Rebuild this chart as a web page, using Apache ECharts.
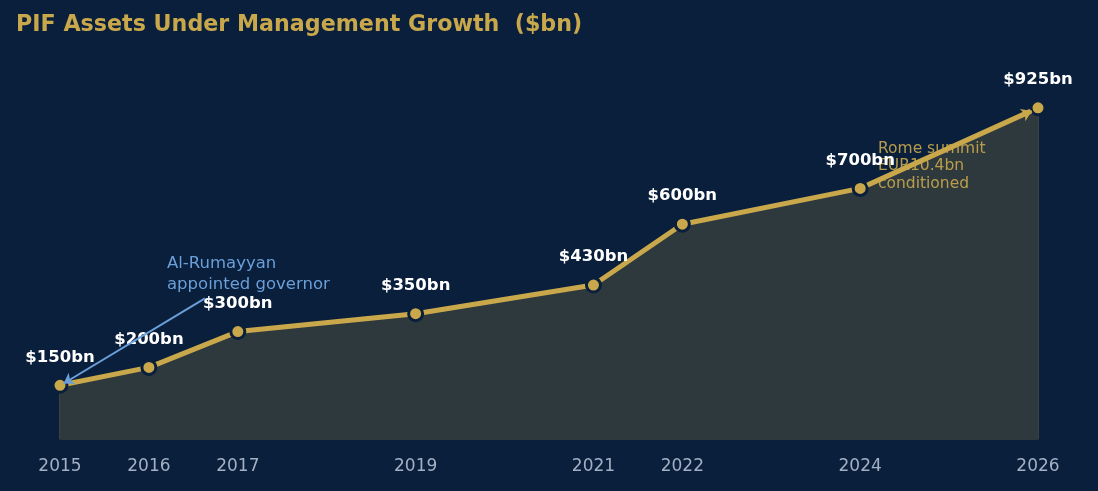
<!DOCTYPE html>
<html>
<head>
<meta charset="utf-8">
<script src="https://cdn.jsdelivr.net/npm/echarts@6/dist/echarts.min.js"></script>
<style>
	html, body { margin: 0; padding: 0; background: #0a1f3c; }
	#chart { width: 1098px; height: 491px; }
</style>
</head>
<body>
<div id="chart"></div>
<script>
// PIF assets under management, $bn
const years = [2015, 2016, 2017, 2019, 2021, 2022, 2024, 2026]
const assets = [150, 200, 300, 350, 430, 600, 700, 925]

const gold = '#c9a84c'
const navy = '#0a1f3c'

$chart = echarts.init(document.getElementById('chart'))

const lineData = years.map((y, i) => [y, assets[i]])

const option = {
	backgroundColor: navy,
	animation: false,
	title: {
		text: 'PIF Assets Under Management Growth  ($bn)',
		left: 11,
		top: 9,
		textStyle: { color: gold, fontSize: 22.2, fontWeight: 'bold', fontFamily: 'DejaVu Sans' },
	},
	grid: { left: 60, right: 60, top: 81, bottom: 52 },
	xAxis: {
		type: 'value',
		min: 2015,
		max: 2026,
		interval: 1,
		axisLine: { show: false },
		axisTick: { show: false },
		splitLine: { show: false },
		axisLabel: {
			color: '#a3b0c4',
			fontSize: 17,
			fontFamily: 'DejaVu Sans',
			margin: 19,
			formatter: (v) => (years.includes(v) ? String(v) : ''),
		},
	},
	yAxis: {
		type: 'value',
		min: 0,
		max: 1000,
		show: false,
	},
	graphic: [
		{
			type: 'text',
			left: 167,
			top: 253,
			z: 3,
			style: {
				text: 'Al-Rumayyan\nappointed governor',
				fill: '#6a9fd8',
				font: '16.5px "DejaVu Sans"',
				lineHeight: 21,
			},
		},
		{
			type: 'text',
			left: 878,
			top: 140,
			z: 3,
			style: {
				text: 'Rome summit\nEUR10.4bn\nconditioned',
				fill: 'rgba(201,168,76,0.9)',
				font: '15.5px "DejaVu Sans"',
				lineHeight: 17.5,
			},
		},
	],
	series: [
		{
			// outline of the filled area
			type: 'line',
			data: [[2015, 150], [2015, 0], [2026, 0], [2026, 925]],
			symbol: 'none',
			lineStyle: { color: '#4a5048', width: 1.5 },
			silent: true,
			z: 1,
		},
		{
			// filled area under the line
			type: 'line',
			data: lineData,
			symbol: 'none',
			lineStyle: { width: 0 },
			areaStyle: { color: '#2e393e', opacity: 1, origin: 'start' },
			silent: true,
			z: 2,
		},
		{
			type: 'line',
			data: lineData,
			z: 4,
			symbol: 'circle',
			symbolSize: 14,
			itemStyle: { color: gold, borderColor: navy, borderWidth: 3 },
			lineStyle: { color: gold, width: 5 },
			label: {
				show: true,
				position: 'top',
				distance: 11,
				color: '#ffffff',
				fontSize: 16.5,
				fontWeight: 'bold',
				fontFamily: 'DejaVu Sans',
				formatter: (p) => '$' + p.value[1] + 'bn',
			},
			markLine: {
				silent: true,
				symbol: ['none', 'arrow'],
				symbolSize: 10,
				label: { show: false },
				data: [
					[
						{ coord: [2016.63, 393], lineStyle: { color: '#6a9fd8', width: 2, type: 'solid' } },
						{ coord: [2015.04, 155] },
					],
					[
						{ coord: [2024.08, 710], lineStyle: { color: gold, width: 3, type: 'solid' } },
						{ coord: [2025.93, 916] },
					],
				],
			},
		},
	],
}

$chart.setOption(option)
</script>
</body>
</html>
